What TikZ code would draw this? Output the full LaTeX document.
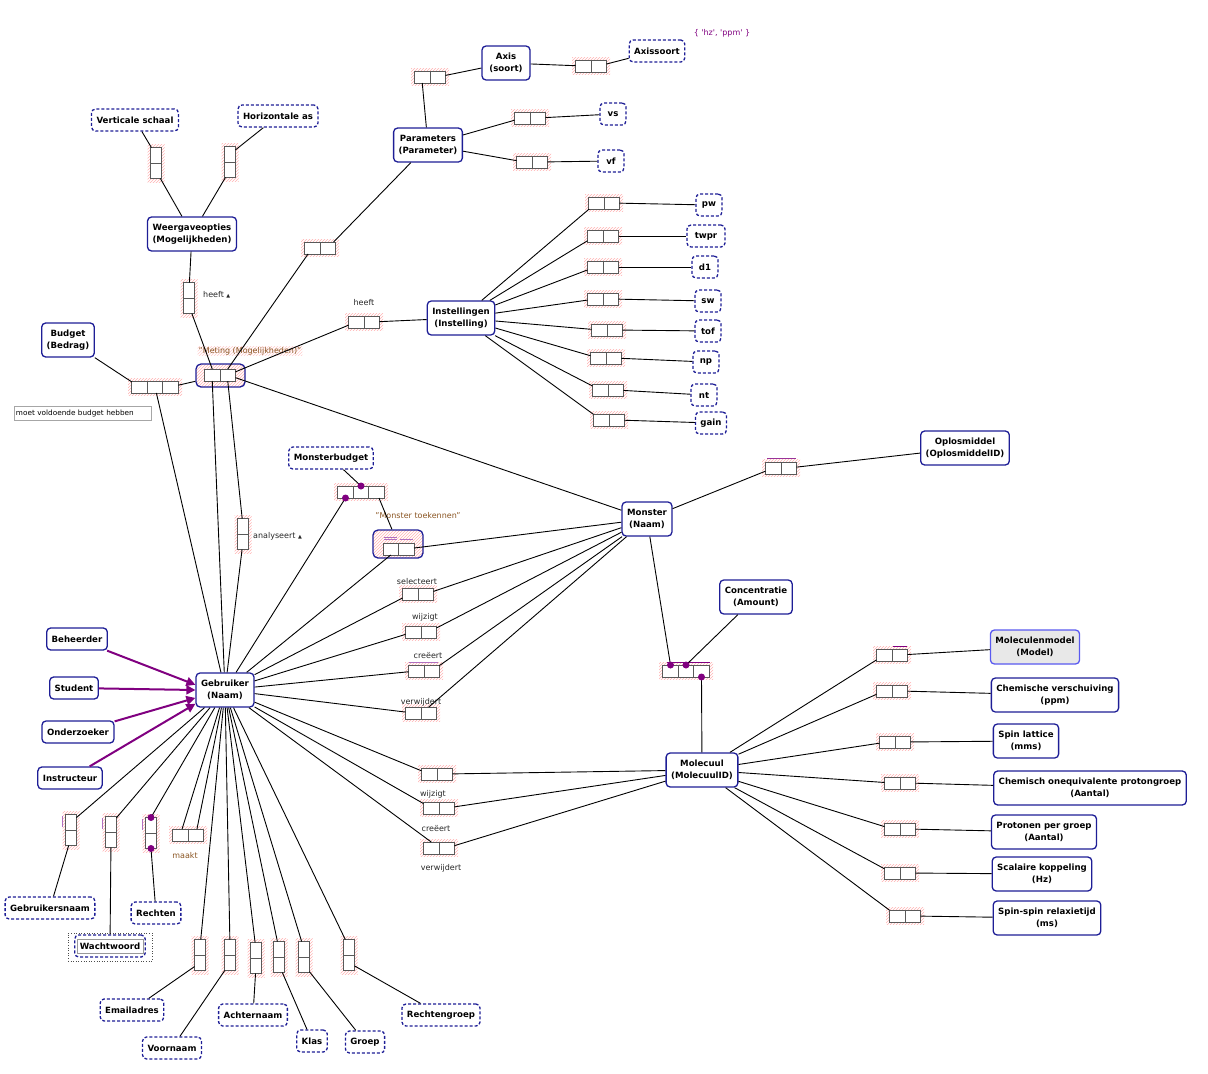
\documentclass[tikz,border=0pt]{standalone}
\usepackage{fontspec}
\setmainfont{DejaVu Sans}
\usetikzlibrary{arrows.meta,patterns,calc}
\definecolor{navy}{HTML}{1E1E96}
\definecolor{orm}{HTML}{800080}
\definecolor{lbl}{HTML}{8A5522}
\definecolor{ucl}{HTML}{B070C0}
\newcommand\hfact[3]{%
  \fill[hatch] ({#2-19},{#3-8.5}) rectangle ({#2+19},{#3+8.5});
  \node[role, anchor=east] (#1a) at (#2,#3) {};
  \node[role, anchor=west] (#1b) at (#2,#3) {};}
\newcommand\vfact[3]{%
  \fill[hatch] ({#2-8.5},{#3-19}) rectangle ({#2+8.5},{#3+19});
  \node[vrole, anchor=south] (#1a) at (#2,#3) {};
  \node[vrole, anchor=north] (#1b) at (#2,#3) {};}
\newcommand\tfact[3]{%
  \fill[hatch] ({#2-27},{#3-8.5}) rectangle ({#2+27},{#3+8.5});
  \node[role] (#1b) at (#2,#3) {};
  \node[role, anchor=east] (#1a) at ({#2-7.75},#3) {};
  \node[role, anchor=west] (#1c) at ({#2+7.75},#3) {};}
\begin{document}
\begin{tikzpicture}[x=1pt,y=-1pt,
  ent/.style={draw=navy, line width=1.3pt, rounded corners=4pt, fill=white, align=center,
    font=\fontsize{8.6}{12}\selectfont\bfseries, inner xsep=5pt, inner ysep=3pt, minimum height=34pt, minimum width=48pt},
  ent1/.style={ent, minimum height=22pt, minimum width=26pt},
  val/.style={ent1, dash pattern=on 3pt off 2pt},
  role/.style={draw=black!65, fill=white, line width=0.8pt, minimum width=15.5pt, minimum height=12pt, inner sep=0pt, outer sep=0pt},
  vrole/.style={role, minimum width=11pt, minimum height=15.5pt},
  hatch/.style={pattern=north east lines, pattern color=red!30},
  conn/.style={line width=0.9pt},
  sub/.style={draw=orm, line width=2pt, -{Triangle[length=9pt,width=9pt]}},
  lab/.style={font=\fontsize{8}{9.5}\selectfont, text=black!85, inner sep=1pt},
  dot/.style={circle, fill=orm, minimum size=7pt, inner sep=0pt},
  uc/.style={draw=ucl, line width=1pt},
  objf/.style={draw=navy, line width=1.3pt, rounded corners=5pt, pattern=north east lines, pattern color=red!30, preaction={fill=white}, inner sep=0pt}
]
\useasboundingbox (0,0) rectangle (1208,1074);

% ---------- entity and value types ----------
\node[ent] (Axis) at (506,63) {Axis\\(soort)};
\node[val] (Axissoort) at (657,51) {Axissoort};
\node[lab, text=orm] (hz) at (722,33) {\{ \textquotesingle hz\textquotesingle, \textquotesingle ppm\textquotesingle\ \}};
\node[ent] (Param) at (428,145) {Parameters\\(Parameter)};
\node[val] (vs) at (613,114) {vs};
\node[val] (vf) at (611,161) {vf};
\node[val] (Vert) at (135,120) {Verticale schaal};
\node[val] (Hor) at (278,116) {Horizontale as};
\node[ent] (Weerg) at (192,234) {Weergaveopties\\(Mogelijkheden)};
\node[ent] (Budget) at (68,340) {Budget\\(Bedrag)};
\node[draw=black!35, line width=0.8pt, fill=white, font=\fontsize{7.3}{8}\selectfont, inner sep=1.5pt, align=left, text width=134pt, minimum height=14pt] (note) at (83,413) {moet voldoende budget hebben};
\node[ent] (Instel) at (461,318) {Instellingen\\(Instelling)};
\node[val] (pw) at (709,205) {pw};
\node[val, minimum width=38pt] (twpr) at (706,236) {twpr};
\node[val] (d1) at (705,267) {d1};
\node[val] (sw) at (708,301) {sw};
\node[val] (tof) at (708,331) {tof};
\node[val] (np) at (706,362) {np};
\node[val] (nt) at (704,395) {nt};
\node[val] (gain) at (711,423) {gain};
\node[ent] (Oplos) at (965,448) {Oplosmiddel\\(OplosmiddelID)};
\node[ent] (Monster) at (647,519) {Monster\\(Naam)};
\node[val] (MB) at (331,458) {Monsterbudget};
\node[ent] (Conc) at (756,597) {Concentratie\\(Amount)};
\node[ent, fill=black!9, draw={rgb,255:red,90;green,90;blue,240}] (MolMod) at (1035,647) {Moleculenmodel\\(Model)};
\node[ent] (ChV) at (1055,695) {Chemische verschuiving\\(ppm)};
\node[ent] (SpL) at (1026,741) {Spin lattice\\(mms)};
\node[ent] (ChO) at (1090,788) {Chemisch onequivalente protongroep\\(Aantal)};
\node[ent] (PpG) at (1044,832) {Protonen per groep\\(Aantal)};
\node[ent] (SKo) at (1042,874) {Scalaire koppeling\\(Hz)};
\node[ent] (SSr) at (1047,918) {Spin-spin relaxietijd\\(ms)};
\node[ent] (Mol) at (702,770) {Molecuul\\(MolecuulID)};
\node[ent] (Gebr) at (225,690) {Gebruiker\\(Naam)};
\node[ent1] (Beh) at (77,639) {Beheerder};
\node[ent1] (Stud) at (74,688) {Student};
\node[ent1] (Onder) at (78,732) {Onderzoeker};
\node[ent1] (Instr) at (70,778) {Instructeur};
\node[val] (GNaam) at (50,908) {Gebruikersnaam};
\node[draw=black!70, dotted, line width=0.6pt, minimum width=84pt, minimum height=28pt] (WWframe) at (110,947) {};
\node[val] (WW) at (110,946) {Wachtwoord};
\node[draw=black!40, line width=0.5pt, minimum width=66pt, minimum height=14pt, inner sep=0pt] (WWin) at (110,946) {};
\node[val] (Rechten) at (156,913) {Rechten};
\node[val] (Email) at (132,1010) {Emailadres};
\node[val] (Voorn) at (172,1048) {Voornaam};
\node[val] (Achtern) at (253,1015) {Achternaam};
\node[val] (Klas) at (312,1041) {Klas};
\node[val] (Groep) at (365,1042) {Groep};
\node[val] (Rgroep) at (441,1015) {Rechtengroep};

% ---------- objectified fact types ----------
\node[objf, minimum width=49pt, minimum height=23pt] (Meting) at (220.5,375.5) {};
\node[role, anchor=east] (Ma) at (220,375) {};
\node[role, anchor=west] (Mb) at (220,375) {};
\node[lab, text=lbl, pattern=north east lines, pattern color=red!20] (MetL) at (250,351) {"Meting (Mogelijkheden)"};
\node[objf, minimum width=50pt, minimum height=28pt] (MT) at (398,544) {};
\node[role, anchor=east] (MTa) at (398.5,549) {};
\node[role, anchor=west] (MTb) at (398.5,549) {};
\draw[uc] (384,537) -- (397,537) (384,539.5) -- (397,539.5) (400,539.5) -- (413,539.5);
\node[lab, text=lbl] (MTL) at (418,516) {"Monster toekennen"};

% ---------- fact types ----------
\hfact{fAx}{430}{77}
\hfact{fAs}{591}{66}
\hfact{fVs}{530}{118}
\hfact{fVf}{532}{162}
\vfact{fVert}{156}{163}
\vfact{fHor}{230}{162}
\vfact{fHW}{189}{298}
\node[lab, anchor=west] (lHW) at (202,295) {heeft {\fontsize{5}{5}\selectfont ▲}};
\hfact{fPM}{320}{248}
\hfact{fHI}{364}{322}
\node[lab] (lHI) at (364,303) {heeft};
\tfact{fBud}{155}{387}
\vfact{fAn}{243}{534}
\node[lab, anchor=west] (lAn) at (252,536) {analyseert {\fontsize{5}{5}\selectfont ▲}};
\tfact{fMB}{361}{492}
\hfact{fSel}{418}{594}
\node[lab] (lSel) at (417,582) {selecteert};
\hfact{fWij}{421}{632}
\node[lab] (lWij) at (425,617) {wijzigt};
\hfact{fCre}{424}{671}
\node[lab] (lCre) at (428,656) {creëert};
\draw[uc] (409,662) -- (438,662);
\hfact{fVer}{421}{713}
\node[lab] (lVer) at (421,702) {verwijdert};
\hfact{fOpl}{781}{468}
\draw[uc, draw=orm!80] (767,458.5) -- (796,458.5);
\tfact{fCon}{686}{671}
\draw[uc, draw=orm] (667,662.5) -- (710,662.5);
\hfact{fGM1}{437}{774}
\node[lab] (lGM1) at (433,794) {wijzigt};
\hfact{fGM2}{439}{808}
\node[lab] (lGM2) at (436,829) {creëert};
\hfact{fGM3}{439}{848}
\node[lab] (lGM3) at (441,868) {verwijdert};
\vfact{fGN}{71}{830}
\draw[uc] (62,816) -- (62,827);
\vfact{fWW}{111}{832}
\draw[uc] (102,818) -- (102,829);
\vfact{fRe}{151}{833}
\draw[uc] (142,819) -- (142,830);
\hfact{fMk}{188}{835}
\node[lab, text=lbl] (lMk) at (185,856) {maakt};
\vfact{fEm}{200}{955}
\vfact{fVn}{230}{955}
\vfact{fAc}{256}{958}
\vfact{fKl}{279}{957}
\vfact{fGr}{304}{957}
\vfact{fRg}{349}{955}
\hfact{fMM}{892}{655}
\draw[uc, draw=orm] (893,646.5) -- (907,646.5);
\hfact{fCV}{892}{691}
\hfact{fSL}{895}{742}
\hfact{fCO}{900}{783}
\hfact{fPG}{900}{829}
\hfact{fSK}{900}{873}
\hfact{fSS}{905}{916}
\hfact{fpw}{604}{203}
\hfact{ftw}{603}{236}
\hfact{fd1}{603}{267}
\hfact{fsw}{603}{299}
\hfact{fto}{607}{330}
\hfact{fnp}{606}{358}
\hfact{fnt}{608}{390}
\hfact{fga}{609}{420}

% ---------- connectors ----------
\begin{scope}[conn]
\draw (Param) -- (fAxa.south);
\draw (fAxb) -- (Axis);
\draw (Axis) -- (fAsa);
\draw (fAsb) -- (Axissoort);
\draw (Param) -- (fVsa);
\draw (fVsb) -- (vs);
\draw (Param) -- (fVfa);
\draw (fVfb) -- (vf);
\draw (Param) -- (fPMb);
\draw (fPMa) -- (Mb.north);
\draw (Vert) -- (fVerta);
\draw (fVertb) -- (Weerg);
\draw (Hor) -- (fHora);
\draw (fHorb) -- (Weerg);
\draw (Weerg) -- (fHWa);
\draw (fHWb) -- (Ma.north);
\draw (Budget) -- (fBuda);
\draw (fBudc) -- (Meting);
\draw (fBudb) -- (Gebr);
\draw (Mb) -- (fHIa);
\draw (fHIb) -- (Instel);
\draw (Mb) -- (Monster);
\draw (Ma.south) -- (Gebr);
\draw (Mb.south) -- (fAna);
\draw (fAnb) -- (Gebr);
\draw (MB) -- (fMBb.north);
\draw (fMBa.south) -- (Gebr);
\draw (fMBc) -- (MT);
\draw (MTb) -- (Monster);
\draw (MTa.south) -- (Gebr);
\draw (Gebr) -- (fSela);
\draw (fSelb) -- (Monster);
\draw (Gebr) -- (fWija);
\draw (fWijb) -- (Monster);
\draw (Gebr) -- (fCrea);
\draw (fCreb) -- (Monster);
\draw (Gebr) -- (fVera);
\draw (fVerb.north) -- (Monster);
\draw (Monster) -- (fOpla);
\draw (fOplb) -- (Oplos);
\draw (Monster) -- (fCona.north);
\draw (Conc) -- (fConb.north);
\draw (Mol) -- (fConc.south);
\draw (Gebr) -- (fGM1a);
\draw (fGM1b) -- (Mol);
\draw (Gebr) -- (fGM2a);
\draw (fGM2b) -- (Mol);
\draw (Gebr) -- (fGM3a.north);
\draw (fGM3b) -- (Mol);
\foreach \f/\v in {fpw/pw, ftw/twpr, fd1/d1, fsw/sw, fto/tof, fnp/np, fnt/nt, fga/gain}{
  \draw (Instel) -- (\f a);
  \draw (\f b) -- (\v);}
\foreach \f/\v in {fMM/MolMod, fCV/ChV, fSL/SpL, fCO/ChO, fPG/PpG, fSK/SKo, fSS/SSr}{
  \draw (Mol) -- (\f a);
  \draw (\f b) -- (\v);}
\draw (Gebr) -- (fGNa);
\draw (fGNb) -- (GNaam);
\draw (Gebr) -- (fWWa);
\draw (fWWb) -- (WW);
\draw (Gebr) -- (fRea.north);
\draw (fReb.south) -- (Rechten);
\draw (Gebr) -- (fMka);
\draw (Gebr) -- (fMkb);
\draw (Gebr) -- (fEma);
\draw (fEmb) -- (Email);
\draw (Gebr) -- (fVna);
\draw (fVnb) -- (Voorn);
\draw (Gebr) -- (fAca);
\draw (fAcb) -- (Achtern);
\draw (Gebr) -- (fKla);
\draw (fKlb) -- (Klas);
\draw (Gebr) -- (fGra);
\draw (fGrb) -- (Groep);
\draw (Gebr) -- (fRga);
\draw (fRgb) -- (Rgroep);
\end{scope}

% subtype arrows
\draw[sub] (Beh) -- (Gebr.170);
\draw[sub] (Stud) -- (Gebr.west);
\draw[sub] (Onder) -- (Gebr.195);
\draw[sub] (Instr) -- (Gebr.205);

% mandatory dots
\node[dot] at (fMBa.south) {};
\node[dot] at (fMBb.north) {};
\node[dot] at (fCona.north) {};
\node[dot] at (fConb.north) {};
\node[dot] at (fConc.south) {};
\node[dot] at (fRea.north) {};
\node[dot] at (fReb.south) {};
\end{tikzpicture}
\end{document}
